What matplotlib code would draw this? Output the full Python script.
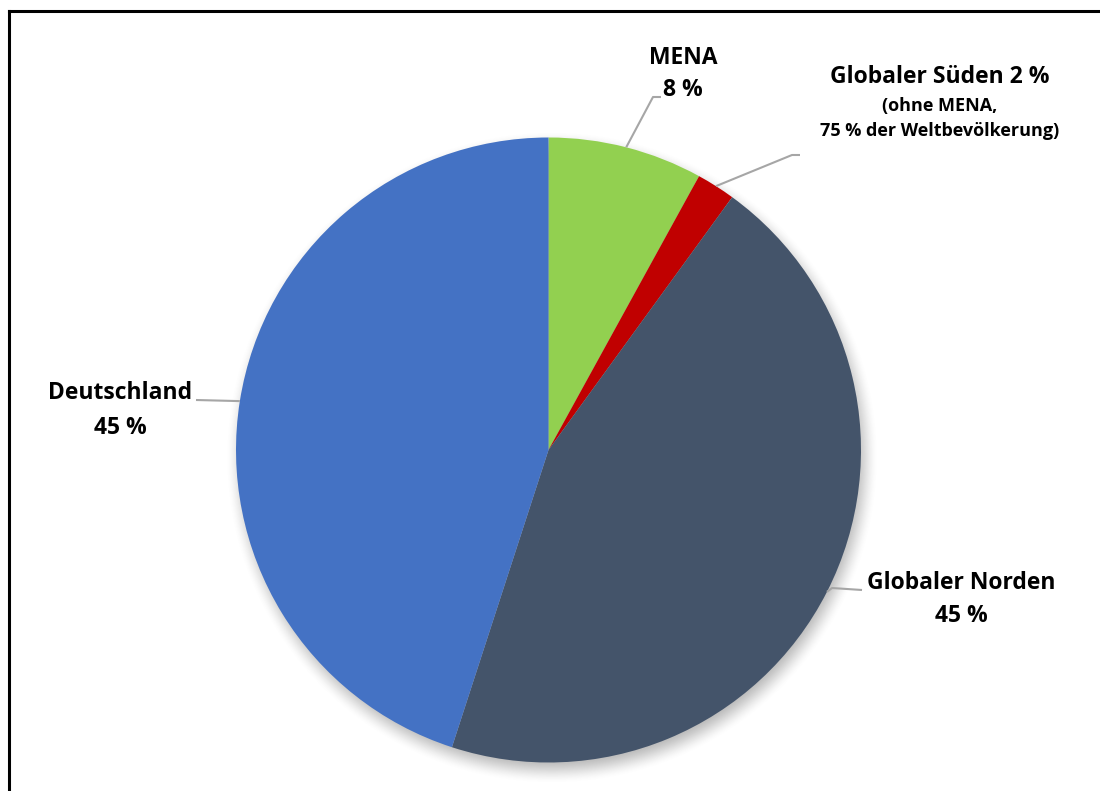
import numpy as np
import matplotlib
matplotlib.use('Agg')
import matplotlib.pyplot as plt

# Anteile und Beschriftungen
labels = ['MENA', 'Globaler Süden', 'Globaler Norden', 'Deutschland']
values = [8, 2, 45, 45]
colors = ['#92D050', '#C00000', '#44546A', '#4472C4']

W, H = 1100, 791
fig = plt.figure(figsize=(W / 100, H / 100), dpi=100)
ax = fig.add_axes([0, 0, 1, 1])
ax.set_xlim(0, W)
ax.set_ylim(0, H)
ax.set_aspect('equal')
ax.axis('off')

cx, cy, r = 548.5, H - 450, 312.5

# weicher Schatten unter dem Kreis
yy, xx = np.mgrid[0:H, 0:W]
d = np.hypot(xx - (cx + 3), (H - yy) - (cy - 7))
blur = 14.0
a = np.clip((r + blur - d) / (2 * blur), 0, 1)
a = a * a * (3 - 2 * a) * 0.45
shadow = np.zeros((H, W, 4))
shadow[..., :3] = 0.35
shadow[..., 3] = a
ax.imshow(shadow, extent=(0, W, 0, H), origin='upper', zorder=1, interpolation='bilinear')

wedges, _ = ax.pie(values, colors=colors, startangle=90, counterclock=False,
                   center=(cx, cy), radius=r, frame=True,
                   wedgeprops=dict(linewidth=0, zorder=2))
ax.set_xlim(0, W)
ax.set_ylim(0, H)
ax.axis('off')

font = ['Open Sans', 'DejaVu Sans']
big, small = 16.5, 13

# Beschriftung: Knickpunkt der Führungslinie, Endpunkt, Texte (Text, Größe, y)
label_cfg = [
    dict(knee=(653, 97), end=(661, 97), text=[('MENA', big, 58), ('8 %', big, 90)], x=683),
    dict(knee=(792, 155), end=(800, 155), text=[('Globaler Süden 2 %', big, 77),
                                              ('(ohne MENA,', small, 106),
                                              ('75 % der Weltbevölkerung)', small, 131)], x=940),
    dict(knee=(832, 588), end=(862, 590), text=[('Globaler Norden', big, 583), ('45 %', big, 616)], x=961),
    dict(knee=(196, 400), end=(196, 400), text=[('Deutschland', big, 393), ('45 %', big, 428)], x=120),
]

for w, cfg in zip(wedges, label_cfg):
    ang = np.deg2rad((w.theta1 + w.theta2) / 2)
    sx, sy = cx + r * np.cos(ang), cy + r * np.sin(ang)
    kx, ky = cfg['knee']
    ex, ey = cfg['end']
    ax.plot([sx, kx, ex], [sy, H - ky, H - ey], color='#A6A6A6', lw=1.5, zorder=3,
            solid_capstyle='butt')
    for txt, size, ty in cfg['text']:
        ax.text(cfg['x'], H - ty, txt, ha='center', va='center', fontsize=size,
                fontweight='bold', family=font, color='#000000')

# Rahmenlinien oben und links
ax.plot([8.5, W], [H - 10.5, H - 10.5], color='black', lw=2.2, zorder=5, solid_capstyle='projecting')
ax.plot([8.5, 8.5], [0, H - 10.5], color='black', lw=2.2, zorder=5, solid_capstyle='projecting')

fig.savefig('out.png', dpi=100, facecolor='white')
